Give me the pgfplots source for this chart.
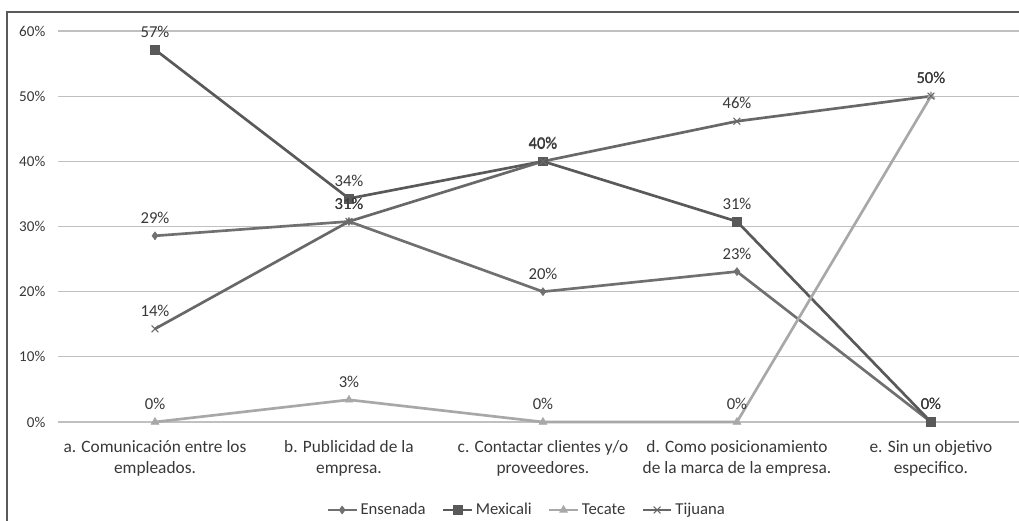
\documentclass[border=0pt]{standalone}
\usepackage{pgfplots}
\pgfplotsset{compat=1.18}
\usepackage{fontspec}
\setmainfont{Carlito}

\definecolor{cEns}{RGB}{112,112,112}
\definecolor{cMex}{RGB}{89,89,89}
\definecolor{cTec}{RGB}{168,168,168}
\definecolor{cTij}{RGB}{104,104,104}
\definecolor{gridc}{RGB}{192,192,192}
\definecolor{txt}{RGB}{56,56,56}
\definecolor{framec}{RGB}{90,90,90}

\begin{document}
\begin{tikzpicture}
\begin{axis}[
  name=ax,
  scale only axis,
  width=720.75pt, height=293.25pt,
  xmin=-0.5, xmax=4.454,
  ymin=0, ymax=60,
  clip=false,
  axis line style={draw=none},
  major tick length=0pt,
  ymajorgrids,
  grid style={gridc, line width=0.9pt},
  ytick={0,10,...,60},
  yticklabel={\pgfmathprintnumber{\tick}\%},
  /pgf/number format/assume math mode=true,
  yticklabel style={font=\fontsize{11.3}{13}\selectfont, text=txt, xshift=-6pt},
  xtick={0,1,2,3,4},
  xticklabels={
    {a. Comunicación entre los\\empleados.},
    {b. Publicidad de la\\empresa.},
    {c. Contactar clientes y/o\\proveedores.},
    {d. Como posicionamiento\\de la marca de la empresa.},
    {e. Sin un objetivo\\especifico.}},
  xticklabel style={align=center, font=\fontsize{13}{15.8}\selectfont, text=txt, yshift=-10pt},
  nodes near coords={\pgfmathprintnumber[fixed,precision=0]{\pgfplotspointmeta}\%},
  nodes near coords style={font=\fontsize{12.5}{14}\selectfont, text=txt, yshift=5.5pt},
  every axis plot/.append style={line width=2pt},
  legend columns=4,
  legend style={at={(0.488,-0.225)}, anchor=center, draw=none, fill=none,
    font=\fontsize{12.5}{14}\selectfont, text=txt,
    /tikz/every even column/.append style={column sep=10pt}},
  legend image code/.code={
    \draw[mark repeat=2,mark phase=2] plot coordinates {(0cm,0cm) (0.38cm,0cm) (0.76cm,0cm)};},
]
\addplot[cEns, mark=diamond*, mark size=3pt, mark options={solid, line width=0.4pt}]
  coordinates {(0,28.57) (1,30.77) (2,20.0) (3,23.08) (4,0)};
\addlegendentry{Ensenada}
\addplot[cMex, mark=square*, mark size=3.3pt, mark options={solid, line width=0.4pt}]
  coordinates {(0,57.14) (1,34.29) (2,40.0) (3,30.77) (4,0)};
\addlegendentry{Mexicali}
\addplot[cTec, mark=triangle*, mark size=3.4pt, mark options={solid, line width=0.4pt}]
  coordinates {(0,0) (1,3.4) (2,0) (3,0) (4,50.0)};
\addlegendentry{Tecate}
\addplot[cTij, mark=x, mark size=3.6pt, mark options={solid, line width=0.8pt}]
  coordinates {(0,14.29) (1,30.77) (2,40.0) (3,46.15) (4,50.0)};
\addlegendentry{Tijuana}
\coordinate (ll) at (rel axis cs:0,0);
\coordinate (ur) at (rel axis cs:1,1);
\end{axis}
% outer chart frame (top and left edges)
\draw[framec, line width=0.9pt]
  ([xshift=-38.25pt, yshift=-80pt]ll) -- ([xshift=-38.25pt, yshift=14.25pt]ll |- ur) -- ([yshift=14.25pt, xshift=10pt]ur);
\pgfresetboundingbox
\path[use as bounding box] ([xshift=-43.5pt, yshift=-74.25pt]ll) rectangle ([yshift=23.25pt]ur);
\end{tikzpicture}
\end{document}
